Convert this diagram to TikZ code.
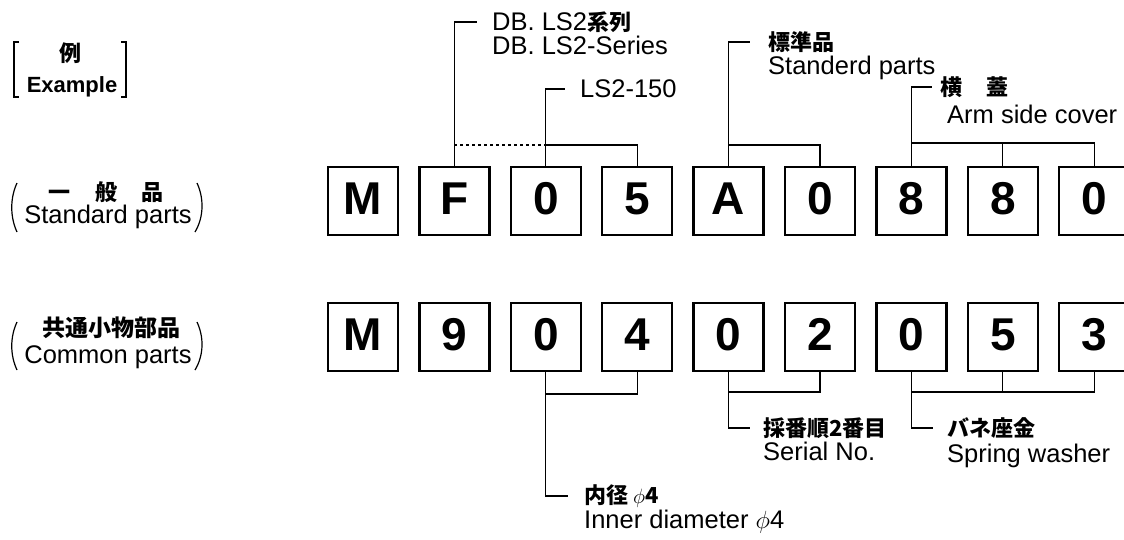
\documentclass[tikz,border=0pt]{standalone}
\usepackage{fontspec}
\setmainfont{Liberation Sans}
\newfontfamily\jp{Noto Sans CJK JP}
\newcommand\latn{\fontsize{25.5}{30}\selectfont\rmfamily\mdseries}
\usetikzlibrary{positioning}

\begin{document}
\begin{tikzpicture}[x=1pt, y=-1pt, node distance=21.4pt,
    digit/.style={draw, line width=2.4pt, minimum width=70pt, minimum height=68pt,
        inner sep=0pt, outer sep=0pt, text height=33pt, text depth=6pt,
        font=\fontsize{46}{50}\selectfont\bfseries},
    jptxt/.style={inner sep=0pt, anchor=west, font=\fontsize{22}{26}\selectfont\jp\bfseries},
    entxt/.style={inner sep=0pt, font=\latn},
    leader/.style={line width=1.1pt}]

        \useasboundingbox (0,0) rectangle (1124,539);
        \fill[white] (0,0) rectangle (1124,539);

        % Cases (ligne du haut)
        \node [digit] (A1) at (363,201) {M};
        \node [digit, right=of A1] (A2) {F};
        \node [digit, right=of A2] (A3) {0};
        \node [digit, right=of A3] (A4) {5};
        \node [digit, right=of A4] (A5) {A};
        \node [digit, right=of A5] (A6) {0};
        \node [digit, right=of A6] (A7) {8};
        \node [digit, right=of A7] (A8) {8};
        \node [digit, right=of A8] (A9) {0};

        % Cases (ligne du bas)
        \node [digit, below=68pt of A1] (B1) {M};
        \node [digit, right=of B1] (B2) {9};
        \node [digit, right=of B2] (B3) {0};
        \node [digit, right=of B3] (B4) {4};
        \node [digit, right=of B4] (B5) {0};
        \node [digit, right=of B5] (B6) {2};
        \node [digit, right=of B6] (B7) {0};
        \node [digit, right=of B7] (B8) {5};
        \node [digit, right=of B8] (B9) {3};

        % Textes de gauche
        \node [inner sep=0pt, font=\fontsize{22}{26}\selectfont\jp\bfseries] (ex) at (70,53) {例};
        \node [inner sep=0pt, anchor=base, font=\fontsize{22}{26}\selectfont\bfseries] (exE) at (72,92) {Example};
        \node [jptxt, anchor=center] (gen) at (106,192) {一\hspace{1.1em}般\hspace{1.1em}品};
        \node [entxt, anchor=base] (genE) at (108,223) {Standard parts};
        \node [jptxt, anchor=center, font=\fontsize{23}{27}\selectfont\jp\bfseries] (com) at (111,328) {共通小物部品};
        \node [entxt, anchor=base] (comE) at (108,363) {Common parts};

        % Crochets et parentheses
        \draw [line width=2.4pt] (19,42) -- (14,42) -- (14,97) -- (19,97);
        \draw [line width=2.4pt] (121,42) -- (126,42) -- (126,97) -- (121,97);
        \draw [line width=1.2pt] (17,183) .. controls (10,198) and (10,217) .. (17,232);
        \draw [line width=1.2pt] (197,183) .. controls (204,198) and (204,217) .. (195,232);
        \draw [line width=1.2pt] (17,322) .. controls (10,337) and (10,355) .. (17,370);
        \draw [line width=1.2pt] (197,322) .. controls (204,337) and (204,355) .. (195,370);

        % Textes du haut
        \node [jptxt] (db) at (492,22) {{\latn DB. LS2}系列};
        \node [entxt, below right=3pt and 0pt of db.south west] (dbE) {DB. LS2-Series};
        \node [entxt, anchor=west] (ls) at (580,89) {LS2-150};
        \node [jptxt] (std) at (768,42) {標準品};
        \node [entxt, below right=3pt and 0pt of std.south west] (stdE) {Standerd parts};
        \node [jptxt] (arm) at (940,87) {横\hspace{1.1em}蓋};
        \node [entxt, below right=7pt and 7pt of arm.south west] (armE) {Arm side cover};

        % Textes du bas
        \node [jptxt] (inner) at (584,496) {内径\ $\phi$4};
        \node [entxt, below right=2pt and 0pt of inner.south west] (innerE) {Inner diameter $\phi$4};
        \node [jptxt] (serial) at (763,428) {採番順2番目};
        \node [entxt, below right=3pt and 0pt of serial.south west] (serialE) {Serial No.};
        \node [jptxt] (spring) at (947,428) {バネ座金};
        \node [entxt, below right=5pt and 0pt of spring.south west] (springE) {Spring washer};

        % Lignes de repere (haut)
        \draw [leader] (A2.north) |- ([xshift=-15pt]db.west);
        \draw [leader, dash pattern=on 3pt off 3pt] ([yshift=22pt]A2.north) -- ([yshift=22pt]A3.north);
        \draw [leader] (A3.north) |- ([xshift=-15pt]ls.west);
        \draw [leader] ([yshift=22pt]A3.north) -| (A4.north);
        \draw [leader] (A5.north) |- ([xshift=-18pt]std.west);
        \draw [leader] ([yshift=22pt]A5.north) -| (A6.north);
        \draw [leader] (A7.north) |- ([xshift=-8pt]arm.west);
        \draw [leader] ([yshift=24pt]A7.north) -| (A9.north);
        \draw [leader] ([yshift=24pt]A8.north) -- (A8.north);

        % Lignes de repere (bas)
        \draw [leader] (B3.south) |- ([xshift=-16pt]inner.west);
        \draw [leader] ([yshift=-23pt]B3.south) -| (B4.south);
        \draw [leader] (B5.south) |- ([xshift=-13pt]serial.west);
        \draw [leader] ([yshift=-21pt]B5.south) -| (B6.south);
        \draw [leader] (B7.south) |- ([xshift=-14pt]spring.west);
        \draw [leader] ([yshift=-21pt]B7.south) -| (B9.south);
        \draw [leader] ([yshift=-21pt]B8.south) -- (B8.south);

    \end{tikzpicture}
\end{document}
